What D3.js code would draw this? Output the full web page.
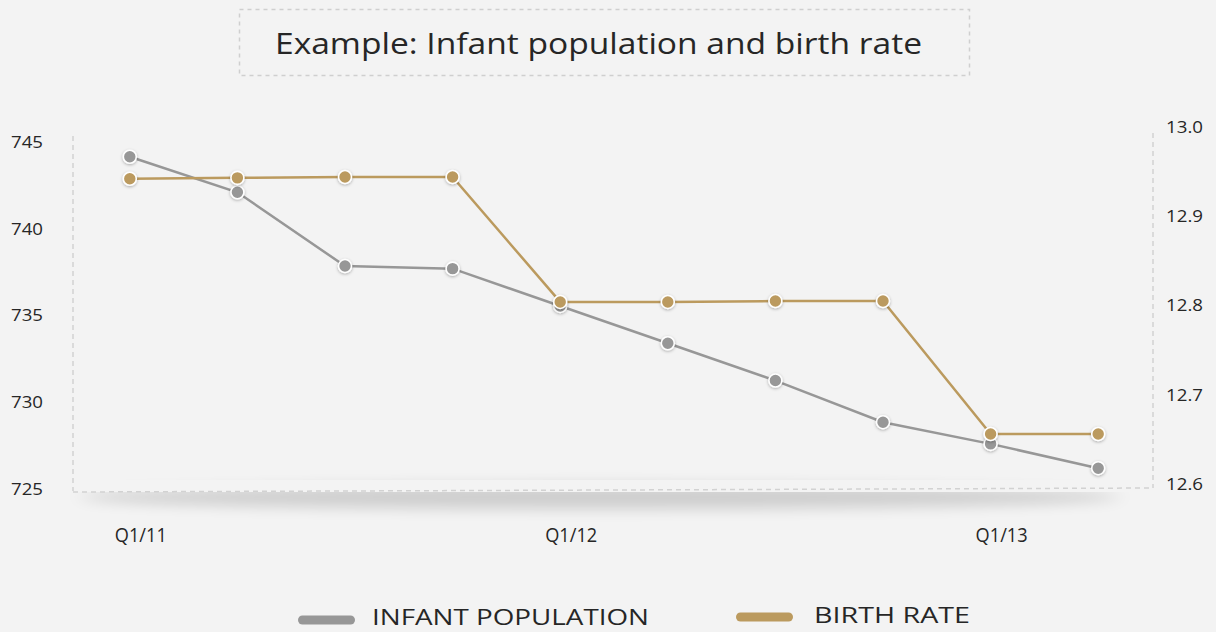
<!DOCTYPE html>
<html><head><meta charset="utf-8">
<script src="https://cdn.jsdelivr.net/npm/d3@7"></script>
<style>
html,body{margin:0;padding:0;background:#f3f3f3;}
svg{display:block;font-family:"Open Sans","Noto Sans",sans-serif;}
</style></head>
<body><svg id="c" width="1216" height="632"></svg>
<script>
const categories = ["Q1/11","Q2/11","Q3/11","Q4/11","Q1/12","Q2/12","Q3/12","Q4/12","Q1/13","Q2/13"];
const infantPopulation = [744.15, 742.1, 737.85, 737.7, 735.55, 733.4, 731.25, 728.85, 727.6, 726.2];
const birthRate = [12.942, 12.943, 12.944, 12.944, 12.804, 12.804, 12.805, 12.805, 12.656, 12.656];
const leftTicks = [725, 730, 735, 740, 745];
const rightTicks = [12.6, 12.7, 12.8, 12.9, 13.0];
const shownLabels = ["Q1/11","Q1/12","Q1/13"];
const seriesNames = ["INFANT POPULATION","BIRTH RATE"];
const colors = ["#979797","#bb9a5e"];
const FONT = '"Open Sans","Noto Sans",sans-serif';

const svg = d3.select("#c");
const defs = svg.append("defs");
const sh = defs.append("filter").attr("id","ds").attr("x","-50%").attr("y","-50%").attr("width","200%").attr("height","200%");
sh.append("feDropShadow").attr("dx",0).attr("dy",1).attr("stdDeviation",1.5).attr("flood-color","#000").attr("flood-opacity",0.3);
const blur = defs.append("filter").attr("id","bl").attr("x","-20%").attr("y","-200%").attr("width","140%").attr("height","500%");
blur.append("feGaussianBlur").attr("stdDeviation","10 7");

const L = 73, R = 1153, T = 136, B = 491;
const x = d3.scaleBand().domain(categories).range([76, 1152]);
const xc = d => x(d) + x.bandwidth()/2;
const yL = d3.scaleLinear().domain([725, 745]).range([489, 142]);
const yR = d3.scaleLinear().domain([12.6, 13.0]).range([484, 127]);

// title
svg.append("rect").attr("x",239.5).attr("y",9.5).attr("width",730).attr("height",66)
  .attr("fill","none").attr("stroke","#cfcfcf").attr("stroke-width",1.5).attr("stroke-dasharray","4,4");
svg.append("text").attr("x",275).attr("y",54)
  .attr("font-size",30).attr("fill","#262626").attr("font-weight",400)
  .attr("textLength",647).attr("lengthAdjust","spacingAndGlyphs")
  .text("Example: Infant population and birth rate");

// shadow below plot
svg.append("ellipse").attr("cx",600).attr("cy",497).attr("rx",520).attr("ry",12)
  .attr("fill","#000").attr("opacity",0.15).attr("filter","url(#bl)");
svg.append("rect").attr("x",L).attr("y",480).attr("width",R-L).attr("height",12).attr("fill","#f3f3f3");

// frame
const frame = svg.append("g").attr("stroke","#d2d2d2").attr("stroke-width",1.5).attr("stroke-dasharray","5,4").attr("fill","none");
frame.append("line").attr("x1",L).attr("x2",L).attr("y1",T).attr("y2",B);
frame.append("line").attr("x1",R).attr("x2",R).attr("y1",T-3).attr("y2",B-3);
frame.append("line").attr("x1",L).attr("x2",R).attr("y1",B+1).attr("y2",B-3);

// axes
const ga = svg.append("g").attr("transform","translate(43,0)")
  .call(d3.axisLeft(yL).tickValues(leftTicks).tickSize(0).tickPadding(0).tickFormat(d3.format("d")));
ga.select(".domain").remove();
ga.attr("font-family",FONT);
ga.selectAll("text").attr("font-size",17).attr("fill","#262626").attr("font-weight",400)
  .attr("textLength",32).attr("lengthAdjust","spacingAndGlyphs");

const gr = svg.append("g").attr("transform","translate(1166,0)")
  .call(d3.axisRight(yR).tickValues(rightTicks).tickSize(0).tickPadding(0).tickFormat(d3.format(".1f")));
gr.select(".domain").remove();
gr.attr("font-family",FONT);
gr.selectAll("text").attr("font-size",17).attr("fill","#262626").attr("font-weight",400)
  .attr("textLength",37).attr("lengthAdjust","spacingAndGlyphs");

const gx = svg.append("g").attr("transform","translate(11,536)")
  .call(d3.axisBottom(x).tickValues(shownLabels).tickSize(0).tickPadding(0));
gx.select(".domain").remove();
gx.attr("font-family",FONT);
gx.selectAll("text").attr("font-size",20).attr("fill","#262626").attr("font-weight",400).attr("dy","0.3em")
  .attr("textLength",52).attr("lengthAdjust","spacingAndGlyphs");

// lines
const series = [
  {vals: infantPopulation, y: yL, color: colors[0]},
  {vals: birthRate, y: yR, color: colors[1]}
];
series.forEach(s => {
  const line = d3.line().x((d,i)=>xc(categories[i])).y(d=>s.y(d));
  svg.append("path").datum(s.vals).attr("d",line).attr("fill","none")
    .attr("stroke",s.color).attr("stroke-width",2.5);
});
series.forEach(s => {
  svg.append("g").selectAll("circle").data(s.vals).join("circle")
    .attr("cx",(d,i)=>xc(categories[i])).attr("cy",d=>s.y(d)).attr("r",6.5)
    .attr("fill",s.color).attr("stroke","#fff").attr("stroke-width",1.6).attr("filter","url(#ds)");
});

// legend
const leg = [{x:298, y:620, tx:372, ty:625, w:277},{x:736, y:617, tx:814, ty:623, w:156}];
seriesNames.forEach((n,i) => {
  svg.append("rect").attr("x",leg[i].x).attr("y",leg[i].y-4.5).attr("width",57).attr("height",9).attr("rx",4.5)
    .attr("fill",colors[i]);
  svg.append("text").attr("x",leg[i].tx).attr("y",leg[i].ty).attr("font-size",22).attr("fill","#262626")
    .attr("font-weight",400).attr("textLength",leg[i].w).attr("lengthAdjust","spacingAndGlyphs").text(n);
});
</script></body></html>
